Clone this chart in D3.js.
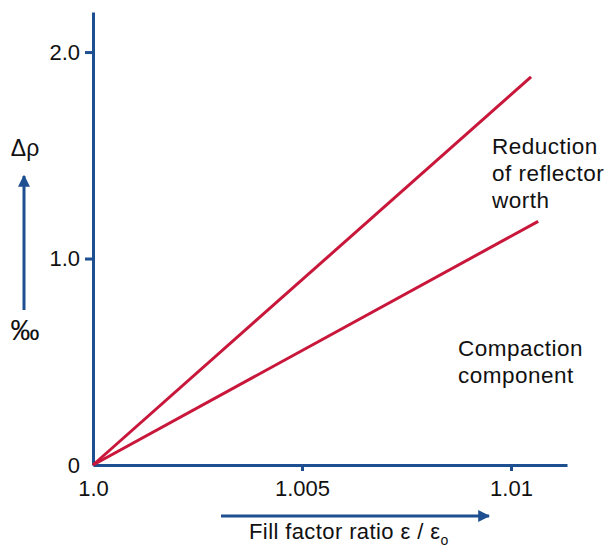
<!DOCTYPE html>
<html>
<head>
<meta charset="utf-8">
<script src="https://cdn.jsdelivr.net/npm/d3@7"></script>
<style>
  body { margin: 0; background: #fff; }
  text { font-family: Arial, "Liberation Sans", sans-serif; fill: #111; }
</style>
</head>
<body>
<div id="chart"></div>
<script>
// fill factor ratio at the end of each line, and the reactivity change there (per mille)
const series = ["Reduction of reflector worth", "Compaction component"];
const xStart = [1.0, 1.0];
const yStart = [0, 0];
const xEnd = [1.01048, 1.01065];
const yEnd = [1.88, 1.18];
const xTicks = [1.0, 1.005, 1.01];
const xTickLabels = ["1.0", "1.005", "1.01"];
const yTicks = [0, 1, 2];
const yTickLabels = ["0", "1.0", "2.0"];

const blue = "#1d4f91";
const red = "#c8173a";

const svg = d3.select("#chart").append("svg")
  .attr("width", 605)
  .attr("height", 548);

// scales run a bit past the last tick so the axis lines overshoot like the original
const x = d3.scaleLinear().domain([1.0, 1.01134]).range([93, 567]);
const y = d3.scaleLinear().domain([0, 2.194]).range([465, 12]);

// y axis
const yAxis = svg.append("g")
  .attr("transform", "translate(93,0)")
  .call(d3.axisLeft(y).tickValues(yTicks).tickSize(8).tickSizeOuter(0)
    .tickPadding(5).tickFormat((d, i) => yTickLabels[i]));
yAxis.select(".domain").attr("stroke", blue).attr("stroke-width", 3);
yAxis.selectAll(".tick line").attr("stroke", blue).attr("stroke-width", 3)
  .filter(d => d === 0).remove();
yAxis.selectAll(".tick text").style("font-size", "22px").attr("fill", "#111");

// x axis
const xAxis = svg.append("g")
  .attr("transform", "translate(0,465)")
  .call(d3.axisBottom(x).tickValues(xTicks).tickSize(6).tickSizeOuter(0)
    .tickPadding(9).tickFormat((d, i) => xTickLabels[i]));
xAxis.select(".domain").attr("stroke", blue).attr("stroke-width", 3);
xAxis.selectAll(".tick line").attr("stroke", blue).attr("stroke-width", 3)
  .filter(d => d === 1.0).remove();
xAxis.selectAll(".tick text").style("font-size", "22px").attr("fill", "#111");

// the two lines
svg.append("g").selectAll("line")
  .data(series)
  .join("line")
  .attr("x1", (d, i) => x(xStart[i]))
  .attr("y1", (d, i) => y(yStart[i]))
  .attr("x2", (d, i) => x(xEnd[i]))
  .attr("y2", (d, i) => y(yEnd[i]))
  .attr("stroke", red)
  .attr("stroke-width", 3);

// arrow head marker
svg.append("defs").append("marker")
  .attr("id", "head")
  .attr("viewBox", "0 0 10 10")
  .attr("refX", 9).attr("refY", 5)
  .attr("markerWidth", 4).attr("markerHeight", 4)
  .attr("markerUnits", "strokeWidth")
  .attr("orient", "auto")
  .append("path")
  .attr("d", "M0,0 L10,5 L0,10 z")
  .attr("fill", blue);

// x axis title with arrow
svg.append("line")
  .attr("x1", 221).attr("y1", 516).attr("x2", 489).attr("y2", 516)
  .attr("stroke", blue).attr("stroke-width", 3)
  .attr("marker-end", "url(#head)");
const xt = svg.append("text")
  .attr("x", 249).attr("y", 539)
  .style("font-size", "22px")
  .style("letter-spacing", "0.4px");
xt.append("tspan").text("Fill factor ratio \u03b5 / \u03b5");
xt.append("tspan").attr("dy", 6).style("font-size", "14px").text("o");

// y axis title with arrow
svg.append("text")
  .attr("x", 25).attr("y", 156)
  .attr("text-anchor", "middle")
  .style("font-size", "23px")
  .text("\u0394\u03c1");
svg.append("line")
  .attr("x1", 24).attr("y1", 310).attr("x2", 24).attr("y2", 176)
  .attr("stroke", blue).attr("stroke-width", 3)
  .attr("marker-end", "url(#head)");
svg.append("text")
  .attr("x", 25).attr("y", 340)
  .attr("text-anchor", "middle")
  .style("font-size", "29px")
  .text("\u2030");

// line labels
const labels = [
  { lines: ["Reduction", "of reflector", "worth"], x: 492, y: 154 },
  { lines: ["Compaction", "component"], x: 458, y: 356 }
];
labels.forEach(l => {
  svg.append("text")
    .attr("x", l.x).attr("y", l.y)
    .style("font-size", "22.5px")
    .style("letter-spacing", "0.5px")
    .selectAll("tspan")
    .data(l.lines)
    .join("tspan")
    .attr("x", l.x)
    .attr("dy", (d, i) => i === 0 ? 0 : 27)
    .text(d => d);
});
</script>
</body>
</html>
